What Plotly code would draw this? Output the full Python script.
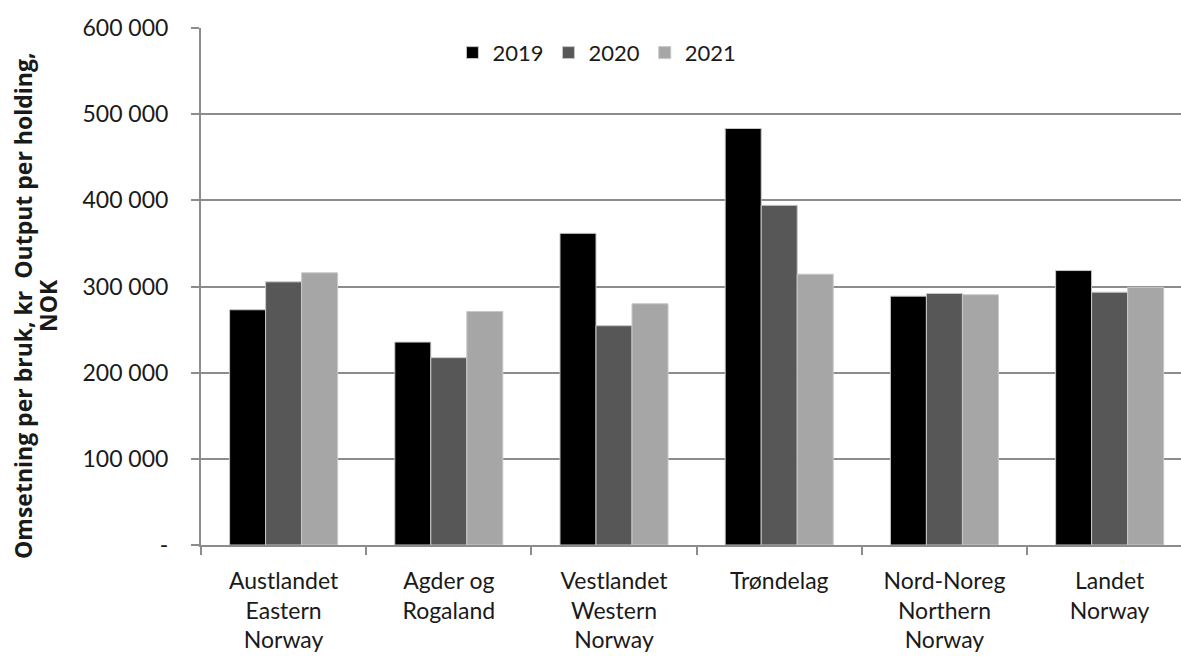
import plotly.graph_objects as go

categories = ["Austlandet<br>Eastern<br>Norway", "Agder og<br>Rogaland", "Vestlandet<br>Western<br>Norway",
              "Trøndelag", "Nord-Noreg<br>Northern<br>Norway", "Landet<br>Norway"]
years = ["2019", "2020", "2021"]
v2019 = [273000, 235500, 361700, 483400, 288800, 318500]
v2020 = [305400, 217400, 254500, 394200, 291900, 293400]
v2021 = [315900, 271000, 280000, 314300, 290400, 299000]
colors = ["#000000", "#575757", "#a6a6a6"]
y_ticks = [0, 100000, 200000, 300000, 400000, 500000, 600000]
y_ticktext = ["-", "100 000", "200 000", "300 000", "400 000", "500 000", "600 000"]
y_title_1 = "Omsetning per bruk, kr  Output per holding,"
y_title_2 = "NOK"

FONT = "Lato"
fig = go.Figure()
for name, vals, col in zip(years, [v2019, v2020, v2021], colors):
    fig.add_trace(go.Bar(name=name, x=categories, y=vals,
                         marker=dict(color=col, line=dict(color="#c8c8c8", width=1))))

fig.update_layout(
    width=1181, height=657,
    margin=dict(l=201, r=0, t=28, b=112, autoexpand=False),
    paper_bgcolor="white", plot_bgcolor="white",
    barmode="group", bargap=0.346, bargroupgap=0,
    font=dict(family=FONT, size=23, color="#1a1a1a"),
    showlegend=True,
    legend=dict(orientation="h", x=0.404, xanchor="center", y=0.952, yanchor="middle",
                font=dict(size=22), bgcolor="rgba(0,0,0,0)", traceorder="normal"),
)
fig.update_xaxes(
    range=[-0.5, 5.432], showline=True, linecolor="#8c8c8c", linewidth=2,
    ticks="outside", tickson="boundaries", ticklen=8, tickcolor="#8c8c8c", tickwidth=1.5,
    showgrid=False, tickfont=dict(size=23, family=FONT), fixedrange=True,
    ticklabelstandoff=14,
)
fig.update_yaxes(
    range=[0, 600000], tickvals=y_ticks, ticktext=y_ticktext,
    showline=True, linecolor="#8c8c8c", linewidth=2,
    ticks="outside", ticklen=8, tickcolor="#8c8c8c", tickwidth=1.5,
    showgrid=True, gridcolor="#8c8c8c", gridwidth=1.5,
    ticklabelstandoff=18, tickfont=dict(size=23, family=FONT), zeroline=False,
)
title_font = dict(family="Open Sans", size=23, color="#1a1a1a", weight="bold")
for txt, px in [(y_title_1, 23), (y_title_2, 48)]:
    fig.add_annotation(
        text=txt, xref="paper", yref="paper", x=(px - 201) / 980, y=(545 - 306) / 517,
        textangle=-90, showarrow=False, xanchor="center", yanchor="middle",
        font=title_font,
    )
fig.write_html("out.html", config={"displayModeBar": False},
               post_script="document.body.style.margin='0';document.body.style.padding='0';")
